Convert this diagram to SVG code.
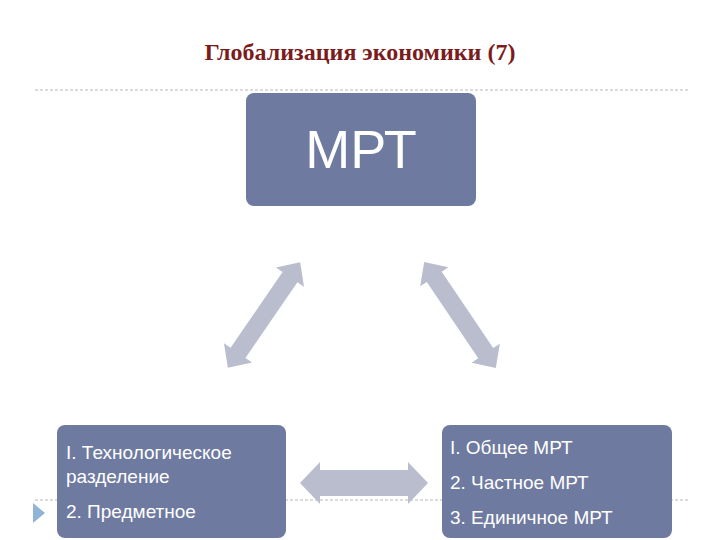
<svg xmlns="http://www.w3.org/2000/svg" width="720" height="540" viewBox="0 0 720 540">
<style>
.box{fill:#6e7aa0}
.arr{fill:#b9bdcd}
.t{font-family:"Liberation Sans",Arial,sans-serif;fill:#fff}
.dash{stroke:#b8b8b8;stroke-width:1;stroke-dasharray:3 2}
</style>
<defs>
<polygon id="da" points="-64,0 -46,-17 -46,-9 46,-9 46,-17 64,0 46,17 46,9 -46,9 -46,17"/>
</defs>
<rect width="720" height="540" fill="#fff"/>
<text x="360" y="60" text-anchor="middle" font-family="Liberation Serif,serif" font-weight="bold" font-size="24" fill="#7a1c1c">Глобализация экономики (7)</text>
<line class="dash" x1="35" y1="90" x2="690" y2="90"/>
<line class="dash" x1="35" y1="500" x2="690" y2="500"/>
<polygon points="33,503 45,513 33,523" fill="#8fb4d6"/>
<g id="connectors" class="arr">
<use href="#da" transform="translate(264,315) rotate(124.4)"/>
<use href="#da" transform="translate(460,315) rotate(56)"/>
<polygon points="300,483 320,462 320,470 408,470 408,462 428,483 408,504 408,496 320,496 320,504"/>
</g>
<g id="mrt">
<rect class="box" x="246" y="93" width="230" height="113" rx="8"/>
<text class="t" x="361" y="168" text-anchor="middle" font-size="54">МРТ</text>
</g>
<g id="left">
<rect class="box" x="57" y="425" width="229" height="113" rx="8"/>
<text class="t" font-size="19"><tspan x="66" y="459">I. Технологическое</tspan><tspan x="66" y="483">разделение</tspan><tspan x="66" y="518">2. Предметное</tspan></text>
</g>
<g id="right">
<rect class="box" x="442" y="425" width="230" height="113" rx="8"/>
<text class="t" font-size="19"><tspan x="450" y="454">I. Общее МРТ</tspan><tspan x="450" y="489">2. Частное МРТ</tspan><tspan x="450" y="524">3. Единичное МРТ</tspan></text>
</g>
</svg>
